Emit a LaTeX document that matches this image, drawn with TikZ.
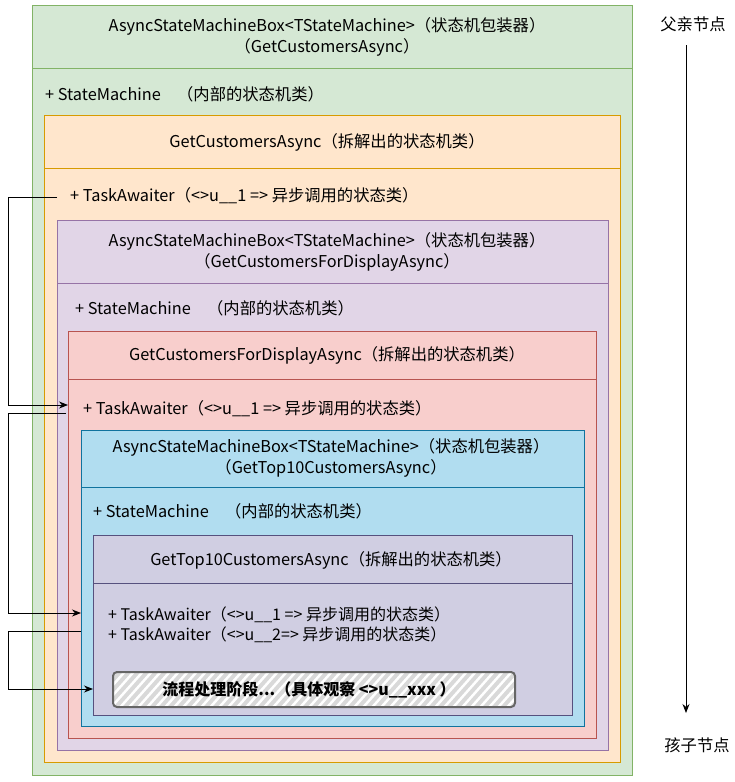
\documentclass[tikz,border=0pt]{standalone}
\usepackage{fontspec}
\setmainfont{Noto Sans CJK SC}
\usetikzlibrary{arrows.meta}
\definecolor{gF}{HTML}{D5E8D4}\definecolor{gS}{HTML}{82B366}
\definecolor{oF}{HTML}{FFE6CC}\definecolor{oS}{HTML}{D79B00}
\definecolor{pF}{HTML}{E1D5E7}\definecolor{pS}{HTML}{9673A6}
\definecolor{rF}{HTML}{F8CECC}\definecolor{rS}{HTML}{B85450}
\definecolor{bF}{HTML}{B1DDF0}\definecolor{bS}{HTML}{10739E}
\definecolor{vF}{HTML}{D0CEE2}\definecolor{vS}{HTML}{56517E}
\begin{document}
\begin{tikzpicture}[x=1pt,y=-1pt,font=\fontsize{16.3}{21}\selectfont,
 box/.style={draw=#1S,fill=#1F,line width=0.8pt},
 hd/.style={align=center,inner sep=0},
 lb/.style={anchor=west,inner sep=0,align=left},
 conn/.style={draw=black,line width=0.9pt,-{Stealth[length=9pt,width=7pt]}}]
\useasboundingbox (0,0) rectangle (735,782);
\fill[white] (0,0) rectangle (735,782);
\draw[box=g] (32,5) rectangle (632,775); \draw[gS,line width=0.8pt] (32,68)--(632,68);
\node[hd] (h1) at (327,37) {AsyncStateMachineBox<TStateMachine>（状态机包装器）\\（GetCustomersAsync）};
\node[lb] (s1) at (45,94) {+ StateMachine\quad（内部的状态机类）};
\draw[box=o] (44,115) rectangle (620,762); \draw[oS,line width=0.8pt] (44,168)--(620,168);
\node[hd] (h2) at (327,142) {GetCustomersAsync（拆解出的状态机类）};
\node[lb] (t1) at (70,196) {+ TaskAwaiter（<>u\_\_1 => 异步调用的状态类）};
\draw[box=p] (57,220) rectangle (608,750); \draw[pS,line width=0.8pt] (57,283)--(608,283);
\node[hd] (h3) at (327,252) {AsyncStateMachineBox<TStateMachine>（状态机包装器）\\（GetCustomersForDisplayAsync）};
\node[lb] (s3) at (75,308) {+ StateMachine\quad（内部的状态机类）};
\draw[box=r] (68,331) rectangle (596,738); \draw[rS,line width=0.8pt] (68,379)--(596,379);
\node[hd] (h4) at (327,355) {GetCustomersForDisplayAsync（拆解出的状态机类）};
\node[lb] (t2) at (83,409) {+ TaskAwaiter（<>u\_\_1 => 异步调用的状态类）};
\draw[box=b] (81,430) rectangle (584,726); \draw[bS,line width=0.8pt] (81,487)--(584,487);
\node[hd] (h5) at (331,458) {AsyncStateMachineBox<TStateMachine>（状态机包装器）\\（GetTop10CustomersAsync）};
\node[lb] (s5) at (93,511) {+ StateMachine\quad（内部的状态机类）};
\draw[box=v] (93,535) rectangle (572,715); \draw[vS,line width=0.8pt] (93,583)--(572,583);
\node[hd] (h6) at (331,560) {GetTop10CustomersAsync（拆解出的状态机类）};
\node[lb,font=\fontsize{16}{20}\selectfont] (t3) at (108,625) {+ TaskAwaiter（<>u\_\_1 => 异步调用的状态类）\\+ TaskAwaiter（<>u\_\_2=> 异步调用的状态类）};
\fill[gray!30,rounded corners=4pt] (113,672) rectangle (515,707);
\begin{scope}
\clip[rounded corners=4pt] (113,672) rectangle (515,707);
\foreach \i in {0,9,...,450}{\draw[white,line width=2.5pt] (80+\i,712)--(120+\i,667);}
\end{scope}
\draw[black!60,line width=2pt,rounded corners=4pt] (113,672) rectangle (515,707);
\node[inner sep=0,font=\fontsize{16}{18}\selectfont\bfseries] (flow) at (309,690) {流程处理阶段...（具体观察 <>u\_\_xxx ）};
\coordinate (a1) at (57,197); \coordinate (a2) at (68,405);
\coordinate (b1) at (66,413); \coordinate (b2) at (81,613);
\coordinate (c1) at (81,631); \coordinate (c2) at (93,689);
\draw[conn] (a1) -| (8,405) -- (a2);
\draw[conn] (b1) -| (8,613) -- (b2);
\draw[conn] (c1) -| (8,689) -- (c2);
\node[inner sep=0] (par) at (693,24) {父亲节点};
\node[inner sep=0] (chi) at (697,745) {孩子节点};
\draw[conn] (686,45) -- (686,713);
\end{tikzpicture}
\end{document}
